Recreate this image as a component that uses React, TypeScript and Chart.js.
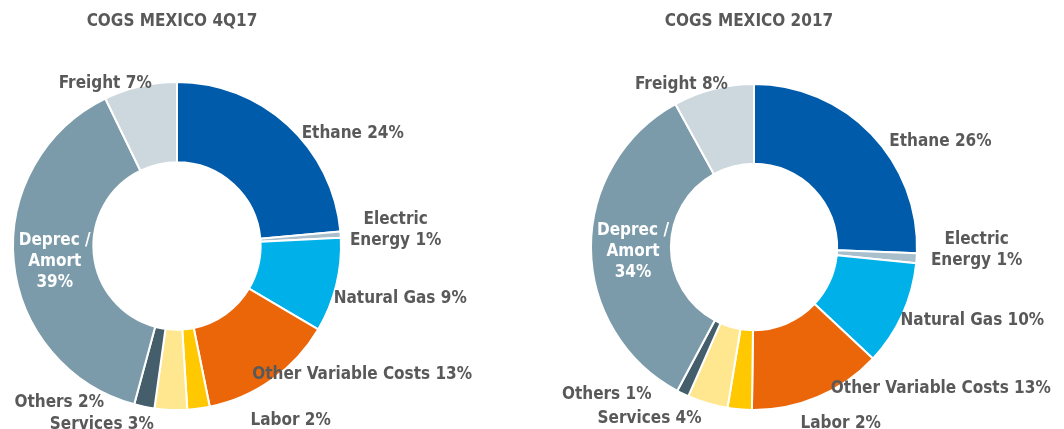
import React, { useEffect, useRef } from "react";
import { Chart, registerables } from "chart.js";

Chart.register(...registerables);

const categories = [
  "Ethane",
  "Electric\nEnergy",
  "Natural Gas",
  "Other Variable Costs",
  "Labor",
  "Services",
  "Others",
  "Deprec /\nAmort\n",
  "Freight",
];

const colors = [
  "#005BAA",
  "#A9BFCB",
  "#00B0E8",
  "#EB6608",
  "#FFC800",
  "#FFE78F",
  "#445E6B",
  "#7B9BAA",
  "#CDD8DE",
];

const values4Q17 = [23.6, 0.6, 9.3, 13.3, 2.2, 3.2, 2.0, 38.6, 7.2];
const values2017 = [25.6, 1.0, 10.4, 13.2, 2.4, 4.0, 1.2, 34.2, 8.0];

const title4Q17 = "COGS MEXICO 4Q17";
const title2017 = "COGS MEXICO 2017";

// label-centre shifts from the outer edge of each slice at its mid angle
const labelShift4Q17 = [
  [65, 9], [55, -5], [64, 13], [90, -5], [92, 12], [-69, 15], [-85, -4], [41, 0], [-35, -3],
];
const labelShift2017 = [
  [69, 8], [60, -8], [70, 6], [123, -8], [101, 14], [-58, 15], [-76, 1], [42, 4], [-32, -5],
];

const TEXT = "#595959";
const FONT = '"DejaVu Sans Condensed", "DejaVu Sans", Verdana, sans-serif';

function DonutChart(props: {
  values: number[];
  title: string;
  shifts: number[][];
  padding: { left: number; right: number; top: number; bottom: number };
}) {
  const ref = useRef<HTMLCanvasElement | null>(null);
  useEffect(() => {
    if (!ref.current) return;
    const total = props.values.reduce((a, b) => a + b, 0);
    const labelPlugin = {
      id: "sliceLabels",
      afterDatasetsDraw(chart: any) {
        const ctx = chart.ctx;
        const meta = chart.getDatasetMeta(0);
        let cx = 0;
        ctx.save();
        meta.data.forEach((arc: any, i: number) => {
          const p = arc.getProps(["x", "y", "startAngle", "endAngle", "outerRadius"], true);
          cx = p.x;
          const mid = (p.startAngle + p.endAngle) / 2;
          const ax = p.x + Math.cos(mid) * p.outerRadius + props.shifts[i][0];
          const ay = p.y + Math.sin(mid) * p.outerRadius + props.shifts[i][1];
          const pct = Math.round((props.values[i] / total) * 100) + "%";
          const base = categories[i];
          const text = base.endsWith("\n") ? base + pct : base + " " + pct;
          const lines = text.split("\n");
          const lh = 21;
          ctx.font = "bold 17px " + FONT;
          ctx.fillStyle = i === 7 ? "#FFFFFF" : TEXT;
          ctx.textAlign = "center";
          ctx.textBaseline = "middle";
          lines.forEach((ln: string, k: number) => {
            ctx.fillText(ln, ax, ay + (k - (lines.length - 1) / 2) * lh);
          });
        });
        ctx.font = "bold 17px " + FONT;
        ctx.fillStyle = TEXT;
        ctx.textAlign = "center";
        ctx.textBaseline = "middle";
        ctx.fillText(props.title, cx - 5, 22);
        ctx.restore();
      },
    };
    const chart = new Chart(ref.current, {
      type: "doughnut",
      data: {
        labels: categories.map((c) => c.replace(/\n/g, " ").trim()),
        datasets: [
          {
            data: props.values,
            backgroundColor: colors,
            borderColor: "#FFFFFF",
            borderWidth: 2,
          },
        ],
      },
      options: {
        responsive: false,
        maintainAspectRatio: false,
        animation: false,
        cutout: "51%",
        layout: { padding: props.padding },
        plugins: {
          legend: { display: false },
          tooltip: { enabled: false },
          title: { display: false },
        },
      },
      plugins: [labelPlugin],
    });
    return () => chart.destroy();
  }, []);
  return <canvas ref={ref} width={532} height={429} style={{ display: "block" }} />;
}

export default function App() {
  return (
    <div
      style={{
        position: "fixed",
        left: 0,
        top: 0,
        width: 1064,
        height: 429,
        background: "#FFFFFF",
        display: "flex",
      }}
    >
      <DonutChart
        values={values4Q17}
        title={title4Q17}
        shifts={labelShift4Q17}
        padding={{ left: 12, right: 190, top: 81, bottom: 18 }}
      />
      <DonutChart
        values={values2017}
        title={title2017}
        shifts={labelShift2017}
        padding={{ left: 58, right: 146, top: 83, bottom: 18 }}
      />
    </div>
  );
}
